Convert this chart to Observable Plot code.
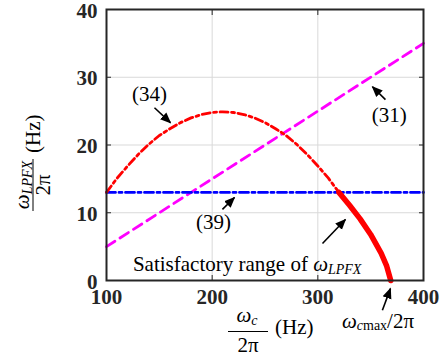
<!DOCTYPE html>
<html><head><meta charset="utf-8">
<script src="https://cdn.jsdelivr.net/npm/d3@7"></script>
<script src="https://cdn.jsdelivr.net/npm/@observablehq/plot@0.6"></script>
<style>
body{margin:0;background:#fff}
#chart{width:447px;height:360px}
</style>
</head><body><div id="chart"></div>
<script>
// ---- data ----
const xTicks = [100, 200, 300, 400];
const yTicks = [0, 10, 20, 30, 40];

// eq.(34) dashed part
const eq34X = [100,110,120,130,140,150,160,170,180,190,200,210,220,230,240,250,260,270,280,290,300,310,320];
const eq34Y = [13.0,15.1,16.9,18.6,20.1,21.4,22.4,23.3,24.0,24.5,24.8,24.9,24.8,24.5,24.0,23.3,22.4,21.4,20.1,18.6,16.9,15.1,13.0];
// satisfactory (thick) part
const rangeX = [320,330,340,350,360,365,369];
const rangeY = [13.0,11.1,9.1,6.8,4.0,2.2,0];
// eq.(31)
const eq31X = [100, 400];
const eq31Y = [5, 35];
// eq.(39)
const eq39X = [100, 400];
const eq39Y = [13, 13];

// annotation labels
const labelText = ["(34)", "(31)", "(39)"];
const labelX = [140.7, 367.7, 201.2];
const labelY = [27.45, 24.35, 8.56];

// annotation arrows
const arrowX1 = [145.4, 364.0, 209.7, 304.4, 361.1];
const arrowY1 = [25.5, 26.7, 10.5, 5.46, -4.4];
const arrowX2 = [160.5, 351.7, 221.1, 326.1, 368.7];
const arrowY2 = [23.3, 28.6, 12.25, 9.0, -1.2];

// rich text anchors (data coords)
const rangeTextX = 125.5, rangeTextY = 1.35;
const wmaxTextX = 323.3, wmaxTextY = -7.1;

const pts = (xs, ys) => xs.map((x, i) => ({x, y: ys[i]}));
const labels = labelText.map((t, i) => ({t, x: labelX[i], y: labelY[i]}));
const arrows = arrowX1.map((x1, i) => ({x1, y1: arrowY1[i], x2: arrowX2[i], y2: arrowY2[i]}));

function filledArrow(color) {
  const m = d3.create("svg:marker")
    .attr("viewBox", "0 -5 10 10")
    .attr("markerWidth", 11).attr("markerHeight", 11)
    .attr("markerUnits", "userSpaceOnUse")
    .attr("orient", "auto").attr("refX", 9).attr("refY", 0)
    .attr("fill", color).attr("stroke", "none");
  m.append("path").attr("d", "M0,-4.2L10,0L0,4.2Z");
  return m.node();
}

const FONT = "Liberation Serif";
const DARK = "#262626";

const plot = Plot.plot({
  width: 447, height: 360,
  marginLeft: 106, marginRight: 24, marginTop: 9, marginBottom: 80,
  style: {fontFamily: FONT, background: "#fff", overflow: "visible"},
  x: {domain: [100, 400]},
  y: {domain: [0, 40]},
  marks: [
    Plot.gridX(xTicks.slice(1, -1), {stroke: "#d9d9d9", strokeOpacity: 1, strokeWidth: 1}),
    Plot.gridY(yTicks.slice(1, -1), {stroke: "#d9d9d9", strokeOpacity: 1, strokeWidth: 1}),
    Plot.line(pts(eq31X, eq31Y), {x: "x", y: "y", stroke: "#ff00ff", strokeWidth: 2.8, strokeDasharray: "10,6"}),
    Plot.line(pts(eq39X, eq39Y), {x: "x", y: "y", stroke: "#0000ff", strokeWidth: 2.8, strokeDasharray: "9,3.5,3,3.5"}),
    Plot.line(pts(eq34X, eq34Y), {x: "x", y: "y", stroke: "#ff0000", strokeWidth: 2.8, strokeDasharray: "8,3.5,3,3.5"}),
    Plot.line(pts(rangeX, rangeY), {x: "x", y: "y", stroke: "#ff0000", strokeWidth: 5.5, strokeLinecap: "round"}),
    Plot.frame({stroke: DARK, strokeWidth: 2}),
    // inward ticks on all four sides
    Plot.axisX(xTicks.slice(1, -1), {anchor: "bottom", tickSize: 5, dy: -5, tickFormat: () => "", label: null, stroke: DARK}),
    Plot.axisX(xTicks.slice(1, -1), {anchor: "top", tickSize: 5, dy: 5, tickFormat: () => "", label: null, stroke: DARK}),
    Plot.axisY(yTicks.slice(1, -1), {anchor: "left", tickSize: 5, dx: 5, tickFormat: () => "", label: null, stroke: DARK}),
    Plot.axisY(yTicks.slice(1, -1), {anchor: "right", tickSize: 5, dx: -5, tickFormat: () => "", label: null, stroke: DARK}),
    // tick labels
    Plot.axisX(xTicks, {anchor: "bottom", tickSize: 0, tickPadding: 9, fontSize: 21, fontWeight: "bold", fill: DARK, label: null}),
    Plot.axisY(yTicks, {anchor: "left", tickSize: 0, tickPadding: 9, dy: 1.5, fontSize: 21, fontWeight: "bold", fill: DARK, label: null}),
    // annotations
    Plot.text(labels, {x: "x", y: "y", text: "t", fontSize: 21, fill: "#000"}),
    Plot.link(arrows, {x1: "x1", y1: "y1", x2: "x2", y2: "y2", stroke: "#000", strokeWidth: 1.6, markerEnd: filledArrow})
  ]
});

document.getElementById("chart").appendChild(plot);

const svg = d3.select(plot);
const sx = plot.scale("x"), sy = plot.scale("y");

function addText(parent, x, y, anchor, parts) {
  const t = parent.append("text").attr("x", x).attr("y", y)
    .attr("text-anchor", anchor).style("font-family", FONT).attr("fill", "#000");
  for (const p of parts) {
    const s = t.append("tspan").text(p.t).attr("font-size", p.size || 21);
    if (p.italic) s.attr("font-style", "italic");
    if (p.dy) s.attr("dy", p.dy);
  }
  return t;
}

// "Satisfactory range of ωLPFX"
addText(svg, sx.apply(rangeTextX), sy.apply(rangeTextY), "start", [
  {t: "Satisfactory range of "},
  {t: "ω", italic: true},
  {t: "LPFX", italic: true, size: 14, dy: 3}
]);

// "ωcmax/2π"
addText(svg, sx.apply(wmaxTextX), sy.apply(wmaxTextY), "start", [
  {t: "ω", italic: true},
  {t: "c", italic: true, size: 14, dy: 2},
  {t: "max", size: 14},
  {t: "/2π", dy: -2}
]);

// x-axis label: ωc / 2π (Hz)
const gx = svg.append("g");
addText(gx, 247, 322, "middle", [
  {t: "ω", italic: true},
  {t: "c", italic: true, size: 14, dy: 3}
]);
gx.append("line").attr("x1", 228).attr("x2", 268).attr("y1", 331.5).attr("y2", 331.5).attr("stroke", "#000").attr("stroke-width", 1);
addText(gx, 248, 352, "middle", [{t: "2π"}]);
addText(gx, 275, 334, "start", [{t: "(Hz)"}]);

// y-axis label (rotated): ωLPFX / 2π (Hz)
const gy = svg.append("g").attr("transform", "translate(0,185) rotate(-90)");
addText(gy, 0, 29, "middle", [
  {t: "ω", italic: true},
  {t: "LPFX", italic: true, size: 14, dy: 3}
]);
gy.append("line").attr("x1", -26).attr("x2", 26).attr("y1", 33).attr("y2", 33).attr("stroke", "#000").attr("stroke-width", 1);
addText(gy, 0, 50, "middle", [{t: "2π"}]);
addText(gy, 32, 40, "start", [{t: "(Hz)"}]);
</script>
</body></html>
